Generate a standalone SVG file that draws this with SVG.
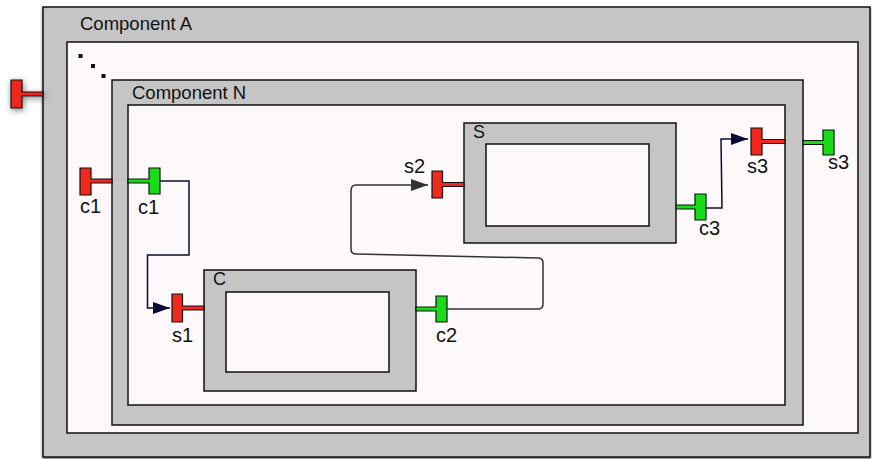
<svg xmlns="http://www.w3.org/2000/svg" width="872" height="459" viewBox="0 0 872 459">
<defs>
<style>
.box{fill:#c6c5c6;stroke:#111;stroke-width:1.5}
.in{fill:#fdf9fa;stroke:#111;stroke-width:1.5}
.red{fill:#f0281e;stroke:#111;stroke-width:1.2}
.grn{fill:#19dc19;stroke:#111;stroke-width:1.2}
.t{font-family:"Liberation Sans",Arial,sans-serif;fill:#111}
.title{font-size:18.5px}
.lbl{font-size:20px}
.con{fill:none;stroke:#0b0b35;stroke-width:1.5}
</style>
<marker id="arr" markerUnits="userSpaceOnUse" markerWidth="18" markerHeight="13" refX="17" refY="6" orient="auto">
<path d="M0,0 L17,6 L0,12 z" fill="#0b0b35"/>
</marker>
<marker id="arr2" markerUnits="userSpaceOnUse" markerWidth="18" markerHeight="13" refX="17" refY="6" orient="auto">
<path d="M0,0 L17,6 L0,12 z" fill="#333"/>
</marker>
<filter id="sh" x="-30%" y="-30%" width="160%" height="160%">
<feGaussianBlur in="SourceAlpha" stdDeviation="3"/>
<feOffset dx="1" dy="2" result="b"/>
<feComponentTransfer><feFuncA type="linear" slope="0.5"/></feComponentTransfer>
<feMerge><feMergeNode/><feMergeNode in="SourceGraphic"/></feMerge>
</filter>
<filter id="sh2" x="-5%" y="-5%" width="110%" height="110%">
<feGaussianBlur in="SourceAlpha" stdDeviation="1.5"/>
<feOffset dx="0" dy="1.5"/>
<feComponentTransfer><feFuncA type="linear" slope="0.5"/></feComponentTransfer>
<feMerge><feMergeNode/><feMergeNode in="SourceGraphic"/></feMerge>
</filter>
</defs>

<g id="componentA">
<rect class="box" x="43" y="7" width="827" height="450" filter="url(#sh2)"/>
<rect class="in" x="67" y="42" width="791" height="391"/>
<text class="t title" x="80" y="30">Component A</text>
<rect x="78.5" y="54" width="4" height="4" fill="#111"/>
<rect x="91" y="64" width="4" height="4" fill="#111"/>
<rect x="101.5" y="74" width="4" height="4" fill="#111"/>
</g>

<g id="componentN">
<rect class="box" x="112" y="80" width="691" height="345"/>
<rect class="in" x="128" y="105" width="657" height="300"/>
<text class="t title" x="132" y="99">Component N</text>
</g>

<g id="nodeC">
<rect class="box" x="204" y="270" width="212" height="121"/>
<rect class="in" x="226" y="292" width="163" height="80"/>
<text class="t" font-size="18" x="213" y="285">C</text>
</g>

<g id="nodeS">
<rect class="box" x="464" y="123" width="212" height="120"/>
<rect class="in" x="486" y="144" width="163" height="82"/>
<text class="t" font-size="18" x="473" y="138">S</text>
</g>

<g id="port-A-left">
<path class="red" filter="url(#sh)" d="M11,80 h11 v12 h21 v4 h-21 v12 h-11 z"/>
</g>
<g id="port-c1-red">
<path class="red" d="M80,168 h11 v11 h21 v4 h-21 v12 h-11 z"/>
<text class="t lbl" x="80" y="213">c1</text>
</g>
<g id="port-c1-green">
<path class="grn" d="M160,168 h-11 v11 h-21 v4 h21 v11 h11 z"/>
<text class="t lbl" x="138" y="214">c1</text>
</g>
<g id="port-s1">
<path class="red" d="M172,294 h10.5 v12 h21.5 v4 h-21.5 v12 h-10.5 z"/>
<text class="t lbl" x="172" y="342">s1</text>
</g>
<g id="port-c2">
<path class="grn" d="M447,296 h-11 v11 h-20 v4 h20 v11 h11 z"/>
<text class="t lbl" x="436" y="342">c2</text>
</g>
<g id="port-s2">
<path class="red" d="M432,171 h10.5 v11.5 h21.5 v4 h-21.5 v11.5 h-10.5 z"/>
<text class="t lbl" x="404" y="173">s2</text>
</g>
<g id="port-c3">
<path class="grn" d="M706,194 h-11 v11 h-19 v4 h19 v11 h11 z"/>
<text class="t lbl" x="699" y="235">c3</text>
</g>
<g id="port-s3-red">
<path class="red" d="M751,128 h11 v11.5 h23 v4 h-23 v11.5 h-11 z"/>
<text class="t lbl" x="747" y="173">s3</text>
</g>
<g id="port-s3-green">
<path class="grn" d="M834,130 h-11 v10.5 h-20 v4 h20 v10.5 h11 z"/>
<text class="t lbl" x="828" y="169">s3</text>
</g>

<g id="connectors">
<path class="con" marker-end="url(#arr)" d="M160,181 H189 V255 H147.5 V308 H170"/>
<path class="con" style="stroke:#333" marker-end="url(#arr2)" d="M447,309 H538 Q543,309 543,304 V263 Q543,258 538,258 L356,254 Q351,254 351,249 V191 Q351,185 356,185 H428"/>
<path class="con" marker-end="url(#arr)" d="M706,208 H722 L721,139 H748"/>
</g>
</svg>
